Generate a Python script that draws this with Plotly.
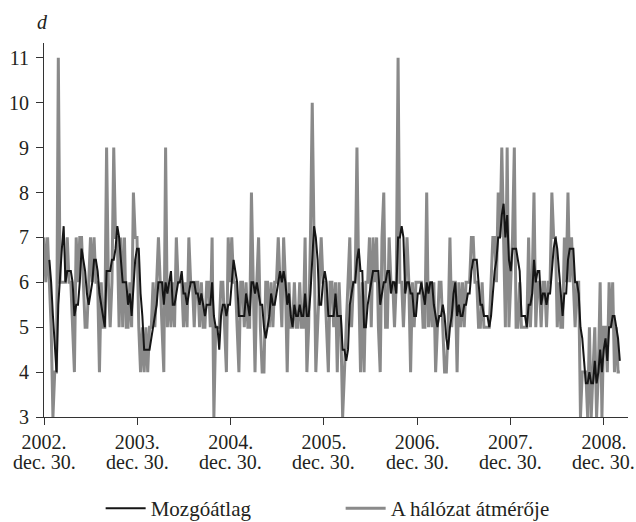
import pandas as pd
import plotly.graph_objects as go

# Weekly network diameter, first week starting 2002-12-30
start_date = "2002-12-30"
diameter = [
    # 2003
    7, 6, 7, 6, 5, 3, 4, 4, 11, 6, 6, 6, 6, 7, 6, 6, 5, 4, 7, 6, 7, 7, 6, 5, 5, 6,
    7, 6, 7, 6, 6, 4, 6, 5, 5, 9, 6, 5, 6, 9, 7, 7, 5, 7, 5, 7, 5, 5, 6, 5, 8, 7,
    # 2004
    7, 5, 4, 5, 4, 5, 4, 5, 5, 6, 5, 6, 7, 6, 5, 4, 9, 5, 6, 5, 6, 5, 7, 6, 6, 6,
    5, 6, 5, 7, 6, 6, 5, 6, 6, 5, 6, 5, 5, 6, 6, 5, 7, 3, 5, 5, 5, 6, 6, 5, 4, 7,
    # 2005
    6, 7, 6, 6, 5, 4, 6, 6, 5, 6, 5, 5, 8, 6, 4, 6, 7, 5, 4, 4, 6, 6, 5, 6, 5, 6,
    6, 7, 6, 5, 7, 6, 4, 6, 5, 5, 6, 5, 5, 6, 5, 5, 7, 4, 5, 7, 10, 7, 4, 5, 6, 7,
    # 2006
    6, 6, 5, 4, 6, 6, 5, 6, 4, 6, 5, 3, 4, 5, 6, 7, 5, 6, 6, 9, 6, 4, 6, 4, 6, 6,
    7, 5, 7, 6, 7, 5, 4, 7, 8, 5, 5, 7, 6, 6, 5, 6, 11, 6, 6, 5, 6, 7, 6, 4, 6, 5,
    # 2007
    6, 6, 6, 6, 5, 5, 8, 5, 6, 5, 6, 4, 5, 6, 6, 5, 4, 4, 5, 7, 5, 6, 6, 4, 6, 5,
    6, 5, 6, 6, 6, 7, 7, 6, 6, 5, 5, 6, 5, 5, 5, 5, 6, 7, 7, 6, 8, 7, 9, 7, 5, 9,
    # 2008 - early 2009
    5, 6, 7, 9, 5, 5, 6, 5, 5, 5, 5, 7, 5, 6, 8, 5, 6, 6, 5, 6, 6, 5, 6, 6, 8, 7,
    7, 5, 6, 5, 5, 7, 6, 8, 6, 7, 6, 5, 6, 6, 3, 4, 4, 4, 3, 5, 3, 4, 5, 3, 4, 6,
    3, 5, 5, 4, 6, 5, 6, 4, 5, 4, 4,
]
ma_window = 4

tick_dates = ["2002-12-30", "2003-12-30", "2004-12-30", "2005-12-30",
              "2006-12-30", "2007-12-30", "2008-12-30"]
tick_years = ["2002.", "2003.", "2004.", "2005.", "2006.", "2007.", "2008."]
tick_day = "dec. 30."
y_ticks = [3, 4, 5, 6, 7, 8, 9, 10, 11]

weeks = pd.date_range(start=start_date, periods=len(diameter), freq="7D")
series = pd.Series(diameter, index=weeks)
moving_avg = series.rolling(ma_window).mean()

font_family = "Liberation Serif"
text_color = "#231f20"
axis_color = "#333333"

fig = go.Figure()
fig.add_trace(go.Scatter(
    x=weeks, y=series.values, mode="lines", name="A hálózat átmérője",
    line=dict(color="#8a8a8a", width=3), legendrank=2,
))
fig.add_trace(go.Scatter(
    x=weeks, y=moving_avg.values, mode="lines", name="Mozgóátlag",
    line=dict(color="#151515", width=2), legendrank=1,
))

# second row of the date labels under each year tick
day_labels = [dict(
    text=tick_day, x=d, xref="x", y=-0.12, yref="paper",
    xanchor="center", yanchor="middle", showarrow=False,
    font=dict(size=20, family=font_family, color=text_color),
) for d in tick_dates]

fig.update_layout(
    width=636, height=522,
    margin=dict(l=44, r=8, t=43, b=105, autoexpand=False),
    paper_bgcolor="white", plot_bgcolor="white",
    font=dict(family=font_family, size=20, color=text_color),
    showlegend=True,
    legend=dict(
        orientation="h", x=0.097, xanchor="left", y=-0.19, yanchor="top",
        entrywidth=185, entrywidthmode="pixels", itemwidth=40,
        font=dict(size=21, family=font_family, color=text_color),
        bgcolor="rgba(0,0,0,0)",
    ),
    xaxis=dict(
        type="date",
        range=["2002-12-30", "2009-04-03"],
        tickmode="array", tickvals=tick_dates, ticktext=tick_years,
        ticks="outside", ticklen=7, tickcolor=axis_color,
        showline=True, linecolor=axis_color, linewidth=1,
        showgrid=False, zeroline=False,
    ),
    yaxis=dict(
        range=[3, 11.33],
        tickmode="array", tickvals=y_ticks,
        ticks="outside", ticklen=7, tickcolor=axis_color,
        ticklabelstandoff=3,
        showline=True, linecolor=axis_color, linewidth=1,
        showgrid=False, zeroline=False,
    ),
    annotations=day_labels + [dict(
        text="<i>d</i>", xref="paper", yref="paper", x=-0.003, y=1.055,
        xanchor="center", yanchor="middle", showarrow=False,
        font=dict(size=20, family=font_family, color=text_color),
    )],
)

fig.write_html("out.html")
